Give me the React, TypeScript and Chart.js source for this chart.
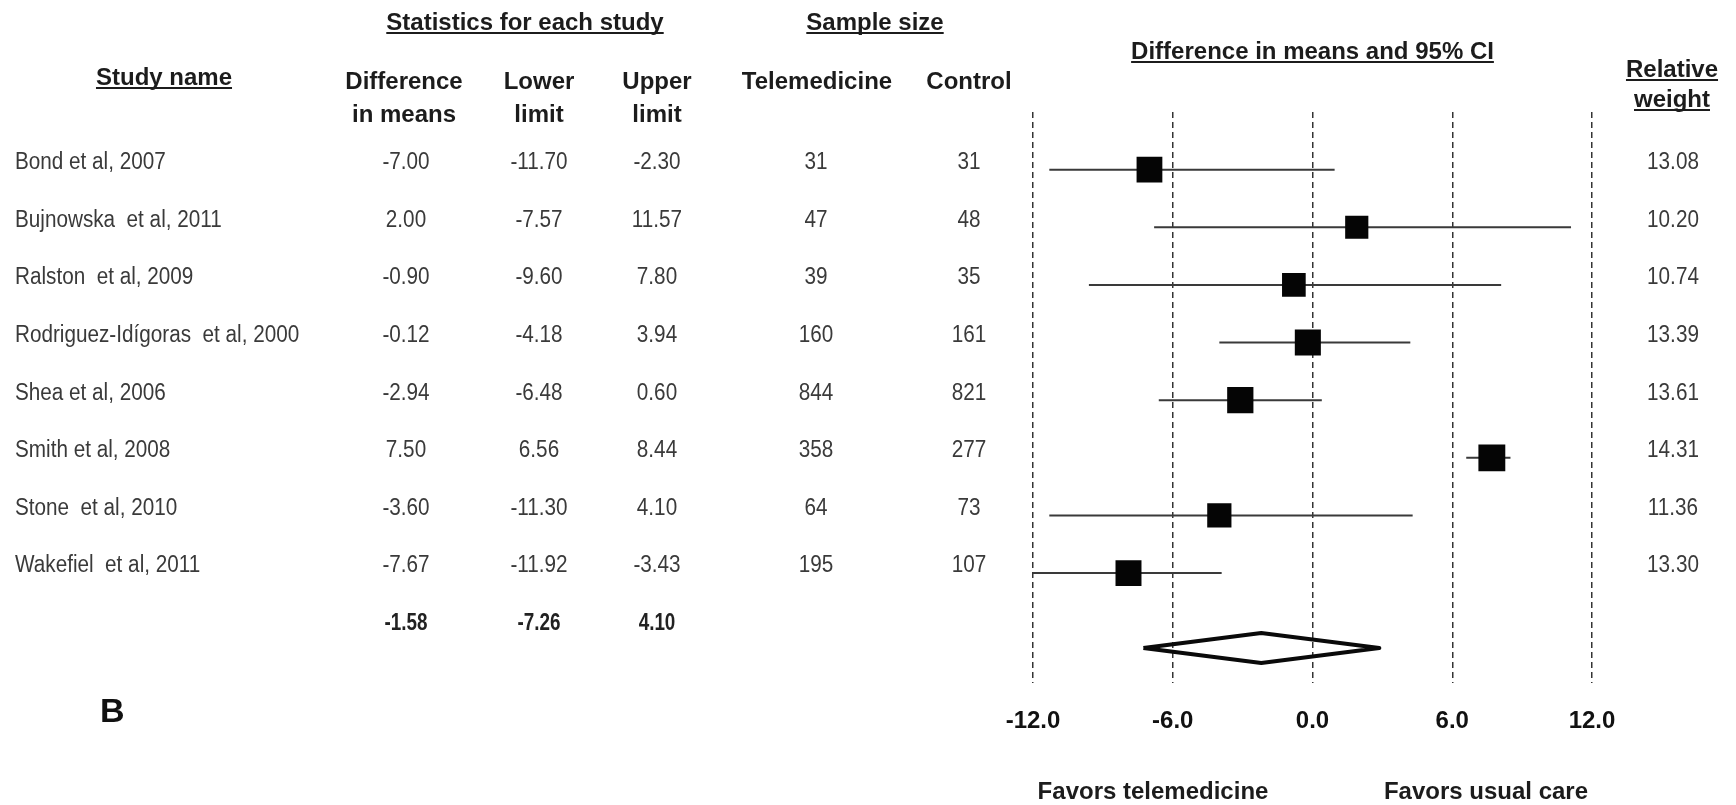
import React, { useEffect, useRef } from 'react';
import { Chart, registerables } from 'chart.js';

Chart.register(...registerables);

// ---------- data ----------
const studyNames = [
  'Bond et al, 2007',
  'Bujnowska  et al, 2011',
  'Ralston  et al, 2009',
  'Rodriguez-Idígoras  et al, 2000',
  'Shea et al, 2006',
  'Smith et al, 2008',
  'Stone  et al, 2010',
  'Wakefiel  et al, 2011',
];
// table columns (as printed)
const diffInMeans = [-7.0, 2.0, -0.9, -0.12, -2.94, 7.5, -3.6, -7.67];
const lowerLimit = [-11.7, -7.57, -9.6, -4.18, -6.48, 6.56, -11.3, -11.92];
const upperLimit = [-2.3, 11.57, 7.8, 3.94, 0.6, 8.44, 4.1, -3.43];
const telemedicineN = [31, 47, 39, 160, 844, 358, 64, 195];
const controlN = [31, 48, 35, 161, 821, 277, 73, 107];
const relativeWeight = [13.08, 10.2, 10.74, 13.39, 13.61, 14.31, 11.36, 13.3];
const summaryStats = [-1.58, -7.26, 4.1];

// positions of the marks as drawn in the plot
const plotMean = [-7.0, 1.9, -0.8, -0.2, -3.1, 7.7, -4.0, -7.9];
const plotLower = [-11.3, -6.8, -9.6, -4.0, -6.6, 6.6, -11.3, -12.0];
const plotUpper = [0.95, 11.1, 8.1, 4.2, 0.4, 8.5, 4.3, -3.9];
const summaryPlot = { lower: -7.26, center: -2.2, upper: 2.87 };

const xTicks = [-12, -6, 0, 6, 12];

// ---------- styling ----------
const FONT = "'Liberation Sans', Arial, Helvetica, sans-serif";
const HEAD_COLOR = '#1c1c1c';
const BODY_COLOR = '#3a3a3a';
const SUMMARY_ROW = 8.3; // vertical slot of the pooled diamond
const TEXT_SHIFT = 7; // table text sits slightly above the marks

type TextOpts = {
  size: number;
  bold?: boolean;
  color?: string;
  align?: 'left' | 'center';
  sx?: number;
  underline?: boolean;
};

function drawText(ctx: CanvasRenderingContext2D, text: string, x: number, y: number, o: TextOpts) {
  const sx = o.sx ?? 1;
  ctx.save();
  ctx.font = `${o.bold ? 'bold ' : ''}${o.size}px ${FONT}`;
  ctx.fillStyle = o.color ?? HEAD_COLOR;
  ctx.textBaseline = 'middle';
  ctx.textAlign = 'left';
  const w = ctx.measureText(text).width * sx;
  const left = o.align === 'center' ? x - w / 2 : x;
  ctx.translate(left, y);
  ctx.scale(sx, 1);
  ctx.fillText(text, 0, 0);
  ctx.restore();
  if (o.underline) {
    ctx.save();
    ctx.strokeStyle = o.color ?? HEAD_COLOR;
    ctx.lineWidth = 2;
    const uy = y + o.size * 0.42;
    ctx.beginPath();
    ctx.moveTo(left, uy);
    ctx.lineTo(left + w, uy);
    ctx.stroke();
    ctx.restore();
  }
}

const tablePlugin = {
  id: 'forestTable',
  afterDraw(chart: any) {
    const ctx: CanvasRenderingContext2D = chart.ctx;
    const ys = chart.scales.y;
    const xs = chart.scales.x;
    const rowY = (i: number) => ys.getPixelForValue(i) - TEXT_SHIFT;

    const H = { size: 24, bold: true, align: 'center' as const };
    // group headers
    drawText(ctx, 'Statistics for each study', 525, 23, { ...H, underline: true });
    drawText(ctx, 'Sample size', 875, 23, { ...H, underline: true });
    drawText(ctx, 'Difference in means and 95% CI', xs.getPixelForValue(0), 52, { ...H, underline: true });
    drawText(ctx, 'Study name', 164, 78, { ...H, underline: true });
    drawText(ctx, 'Difference', 404, 82, H);
    drawText(ctx, 'in means', 404, 115, H);
    drawText(ctx, 'Lower', 539, 82, H);
    drawText(ctx, 'limit', 539, 115, H);
    drawText(ctx, 'Upper', 657, 82, H);
    drawText(ctx, 'limit', 657, 115, H);
    drawText(ctx, 'Telemedicine', 817, 82, H);
    drawText(ctx, 'Control', 969, 82, H);
    drawText(ctx, 'Relative', 1672, 70, { ...H, underline: true });
    drawText(ctx, 'weight', 1672, 100, { ...H, underline: true });

    const B = { size: 23, color: BODY_COLOR, sx: 0.9 };
    studyNames.forEach((name, i) => {
      const y = rowY(i);
      drawText(ctx, name, 15, y, { ...B, align: 'left' });
      drawText(ctx, diffInMeans[i].toFixed(2), 406, y, { ...B, align: 'center' });
      drawText(ctx, lowerLimit[i].toFixed(2), 539, y, { ...B, align: 'center' });
      drawText(ctx, upperLimit[i].toFixed(2), 657, y, { ...B, align: 'center' });
      drawText(ctx, String(telemedicineN[i]), 816, y, { ...B, align: 'center' });
      drawText(ctx, String(controlN[i]), 969, y, { ...B, align: 'center' });
      drawText(ctx, relativeWeight[i].toFixed(2), 1673, y, { ...B, align: 'center' });
    });
    const sy = rowY(studyNames.length);
    const S = { size: 23, bold: true, color: '#222', sx: 0.82, align: 'center' as const };
    drawText(ctx, summaryStats[0].toFixed(2), 406, sy, S);
    drawText(ctx, summaryStats[1].toFixed(2), 539, sy, S);
    drawText(ctx, summaryStats[2].toFixed(2), 657, sy, S);

    drawText(ctx, 'B', 100, 713, { size: 34, bold: true, color: '#111', align: 'left' });
    drawText(ctx, 'Favors telemedicine', 1153, 792, { size: 24, bold: true, align: 'center' });
    drawText(ctx, 'Favors usual care', 1486, 792, { size: 24, bold: true, align: 'center' });
  },
};

export default function App() {
  const ref = useRef<HTMLCanvasElement | null>(null);

  useEffect(() => {
    document.body.style.margin = '0';
    if (!ref.current) return;

    const ciData: any[] = [];
    studyNames.forEach((_, i) => {
      ciData.push({ x: plotLower[i], y: i });
      ciData.push({ x: plotUpper[i], y: i });
      ciData.push({ x: plotUpper[i], y: null });
    });
    const meanData = studyNames.map((_, i) => ({ x: plotMean[i], y: i }));
    const squareRadius = relativeWeight.map((w) => (14 + 0.9 * w) / Math.SQRT2);
    const halfH = 0.26;
    const diamond = [
      { x: summaryPlot.lower, y: SUMMARY_ROW },
      { x: summaryPlot.center, y: SUMMARY_ROW - halfH },
      { x: summaryPlot.upper, y: SUMMARY_ROW },
      { x: summaryPlot.center, y: SUMMARY_ROW + halfH },
      { x: summaryPlot.lower, y: SUMMARY_ROW },
    ];

    const chart = new Chart(ref.current, {
      type: 'scatter',
      data: {
        datasets: [
          {
            type: 'line',
            label: '95% CI',
            data: ciData,
            borderColor: '#3a3a3a',
            borderWidth: 2,
            pointRadius: 0,
            spanGaps: false,
            fill: false,
            order: 3,
          } as any,
          {
            type: 'scatter',
            label: 'Difference in means',
            data: meanData,
            pointStyle: 'rect',
            pointRadius: squareRadius,
            backgroundColor: '#050505',
            borderColor: '#050505',
            borderWidth: 0,
            order: 1,
          } as any,
          {
            type: 'line',
            label: 'Pooled',
            data: diamond,
            borderColor: '#0a0a0a',
            borderWidth: 4,
            borderJoinStyle: 'round',
            pointRadius: 0,
            fill: false,
            order: 2,
          } as any,
        ],
      },
      options: {
        responsive: false,
        animation: false,
        events: [],
        layout: { padding: { left: 1033, right: 144, top: 112, bottom: 45 } },
        plugins: { legend: { display: false }, tooltip: { enabled: false } },
        scales: {
          x: {
            type: 'linear',
            position: 'bottom',
            min: xTicks[0],
            max: xTicks[xTicks.length - 1],
            afterBuildTicks: (scale: any) => {
              scale.ticks = xTicks.map((v) => ({ value: v }));
            },
            ticks: {
              padding: 24,
              color: '#111',
              maxRotation: 0,
              autoSkip: false,
              font: { family: FONT, size: 24, weight: 'bold' },
              callback: (v: any) => Number(v).toFixed(1),
            },
            grid: { color: '#333', lineWidth: 1.5, drawTicks: false },
            border: { display: false, dash: [6, 4] },
          },
          y: {
            type: 'linear',
            reverse: true,
            min: -1.0,
            max: 8.91,
            display: false,
          },
        },
      } as any,
      plugins: [tablePlugin],
    });
    return () => chart.destroy();
  }, []);

  return (
    <div style={{ position: 'absolute', left: 0, top: 0, width: 1736, height: 805, background: '#fff' }}>
      <canvas ref={ref} width={1736} height={805} style={{ display: 'block', width: 1736, height: 805 }} />
    </div>
  );
}
